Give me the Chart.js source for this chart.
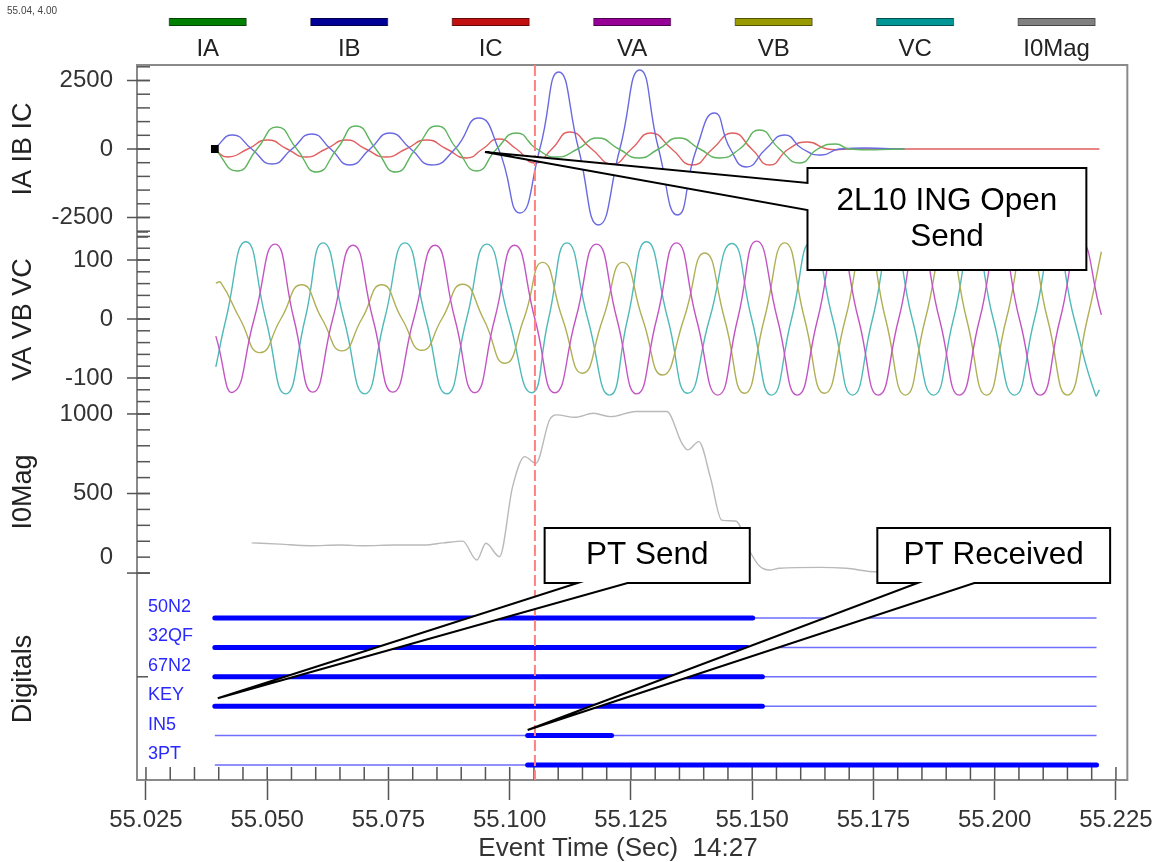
<!DOCTYPE html>
<html>
<head>
<meta charset="utf-8">
<script src="https://cdn.jsdelivr.net/npm/chart.js@4.4.1/dist/chart.umd.min.js"></script>
<style>
  html, body { margin: 0; padding: 0; background: #fff; }
  #wrap { width: 1159px; height: 862px; }
</style>
</head>
<body>
<div id="wrap"><canvas id="chart" width="1159" height="862"></canvas></div>
<script>
var FONT = '"Liberation Sans", Arial, sans-serif';

// ---- currents (A), key points: peaks and zero crossings
var iaTime = [55.0392, 55.0438, 55.0479, 55.0520, 55.0561, 55.0602, 55.0644, 55.0683, 55.0724, 55.0765, 55.0806, 55.0850, 55.0891, 55.0932, 55.0973, 55.1014, 55.1056, 55.1097, 55.1140, 55.1181, 55.1225, 55.1266, 55.1307, 55.1348, 55.1392, 55.1433, 55.1474, 55.1515, 55.1556, 55.1598, 55.1635, 55.1672, 55.1701, 55.1814];
var iaVal = [0, -803, 0, 803, 0, -840, 0, 840, 0, -840, 0, 840, 0, -803, 0, 584, 0, -292, 0, 402, 0, -329, 0, 402, 0, -329, 0, 694, 0, -511, 0, 183, 0, 0];

var ibTime = [55.0392, 55.0429, 55.0468, 55.0510, 55.0551, 55.0592, 55.0631, 55.0670, 55.0712, 55.0753, 55.0796, 55.0839, 55.0887, 55.0936, 55.0977, 55.1021, 55.1062, 55.1101, 55.1142, 55.1183, 55.1227, 55.1268, 55.1307, 55.1346, 55.1385, 55.1422, 55.1455, 55.1488, 55.1528, 55.1567, 55.1604, 55.1643, 55.1680, 55.1814];
var ibVal = [37, 511, 0, -548, 0, 548, 0, -584, 0, 584, 0, -584, 0, 1132, 0, -2336, 0, 2811, 0, -2774, 0, 2884, 0, -2409, 0, 1314, 0, -657, 0, 511, 0, -219, 0, 0];

var icTime = [55.0392, 55.0419, 55.0460, 55.0501, 55.0541, 55.0580, 55.0621, 55.0664, 55.0703, 55.0745, 55.0786, 55.0829, 55.0870, 55.0911, 55.0944, 55.0977, 55.1014, 55.1052, 55.1087, 55.1124, 55.1169, 55.1212, 55.1251, 55.1291, 55.1334, 55.1377, 55.1418, 55.1460, 55.1499, 55.1536, 55.1575, 55.1614, 55.1655, 55.1697, 55.2216];
var icVal = [-37, -292, 0, 329, 0, -292, 0, 329, 0, -292, 0, 329, 0, -329, 0, 365, 0, -511, 0, 621, 0, -548, 0, 584, 0, -584, 0, 584, 0, -584, 0, 256, 0, 0, 0];

// ---- voltages (V)
var vaTime = [55.0394, 55.0430, 55.0473, 55.0516, 55.0555, 55.0594, 55.0635, 55.0677, 55.0718, 55.0759, 55.0802, 55.0846, 55.0887, 55.0928, 55.0969, 55.1010, 55.1052, 55.1093, 55.1136, 55.1179, 55.1221, 55.1262, 55.1303, 55.1344, 55.1385, 55.1429, 55.1470, 55.1509, 55.1552, 55.1593, 55.1635, 55.1676, 55.1719, 55.1760, 55.1802, 55.1843, 55.1886, 55.1927, 55.1969, 55.2010, 55.2051, 55.2094, 55.2135, 55.2177, 55.2220];
var vaVal = [-29, -124, 0, 127, 0, -124, 0, 125, 0, -124, 0, 125, 0, -125, 0, 125, 0, -125, 0, 127, 0, -127, 0, 129, 0, -129, 0, 132, 0, -129, 0, 130, 0, -129, 0, 130, 0, -129, 0, 130, 0, -129, 0, 130, 7];

var vbTime = [55.0394, 55.0404, 55.0444, 55.0485, 55.0528, 55.0571, 55.0613, 55.0654, 55.0695, 55.0736, 55.0778, 55.0819, 55.0860, 55.0903, 55.0946, 55.0990, 55.1029, 55.1068, 55.1109, 55.1150, 55.1192, 55.1233, 55.1274, 55.1315, 55.1359, 55.1402, 55.1443, 55.1484, 55.1525, 55.1567, 55.1608, 55.1649, 55.1692, 55.1734, 55.1775, 55.1816, 55.1857, 55.1901, 55.1942, 55.1983, 55.2024, 55.2067, 55.2109, 55.2150, 55.2191, 55.2220];
var vbVal = [61, 62, 0, -57, 0, 58, 0, -54, 0, 58, 0, -53, 0, 59, 0, -75, 0, 96, 0, -92, 0, 96, 0, -95, 0, 112, 0, -126, 0, 129, 0, -126, 0, 130, 0, -129, 0, 130, 0, -129, 0, 130, 0, -129, 0, 114];

var vcTime = [55.0394, 55.0415, 55.0456, 55.0497, 55.0538, 55.0578, 55.0615, 55.0658, 55.0701, 55.0742, 55.0784, 55.0827, 55.0870, 55.0911, 55.0953, 55.0998, 55.1045, 55.1080, 55.1118, 55.1161, 55.1206, 55.1243, 55.1282, 55.1326, 55.1367, 55.1412, 55.1458, 55.1499, 55.1540, 55.1581, 55.1622, 55.1666, 55.1707, 55.1748, 55.1789, 55.1830, 55.1874, 55.1915, 55.1956, 55.1997, 55.2041, 55.2082, 55.2123, 55.2164, 55.2208, 55.2216];
var vcVal = [-81, 0, 131, 0, -127, 0, 129, 0, -127, 0, 129, 0, -127, 0, 127, 0, -125, 0, 129, 0, -129, 0, 131, 0, -126, 0, 128, 0, -129, 0, 130, 0, -129, 0, 130, 0, -129, 0, 130, 0, -129, 0, 130, 0, -129, -120];

// ---- residual current magnitude
var mTime = [55.0468, 55.0526, 55.0588, 55.0650, 55.0699, 55.0763, 55.0825, 55.0864, 55.0903, 55.0932, 55.0951, 55.0979, 55.1006, 55.1031, 55.1054, 55.1082, 55.1097, 55.1134, 55.1173, 55.1208, 55.1260, 55.1324, 55.1355, 55.1367, 55.1390, 55.1414, 55.1437, 55.1466, 55.1497, 55.1515, 55.1536, 55.1556, 55.1639, 55.1694, 55.1756, 55.1804];
var mVal = [190, 182, 172, 176, 172, 176, 176, 190, 201, 82, 187, 103, 543, 732, 690, 962, 994, 979, 1004, 983, 1015, 1015, 816, 774, 826, 598, 333, 327, 126, 44, 19, 30, 36, 30, 8, 19];

// ---- digitals: asserted interval of each channel
var digNames = ['50N2', '32QF', '67N2', 'KEY', 'IN5', '3PT'];
var digOnStart = [55.0392, 55.0392, 55.0392, 55.0392, 55.1037, 55.1037];
var digOnEnd = [55.1501, 55.1490, 55.1521, 55.1521, 55.1210, 55.2210];
var digFirst = 55.0392, digLast = 55.2210;

// ---- ticks / cursor
var xTicks = [55.025, 55.050, 55.075, 55.100, 55.125, 55.150, 55.175, 55.200, 55.225];
var iTicks = [2500, 0, -2500];
var vTicks = [100, 0, -100];
var mTicks = [1000, 500, 0];
var cursorTime = 55.1052;

function pts(ts, vs) {
  return ts.map(function (t, i) { return {x: t, y: vs[i]}; });
}

var analog = [
  {label: 'IA', t: iaTime, v: iaVal, axis: 'yI', line: 'rgb(95,180,95)', key: 'rgb(0,128,0)'},
  {label: 'IB', t: ibTime, v: ibVal, axis: 'yI', line: 'rgb(105,105,225)', key: 'rgb(0,0,150)'},
  {label: 'IC', t: icTime, v: icVal, axis: 'yI', line: 'rgb(225,95,95)', key: 'rgb(192,16,16)'},
  {label: 'VA', t: vaTime, v: vaVal, axis: 'yV', line: 'rgb(195,85,195)', key: 'rgb(150,0,150)'},
  {label: 'VB', t: vbTime, v: vbVal, axis: 'yV', line: 'rgb(175,175,85)', key: 'rgb(153,153,0)'},
  {label: 'VC', t: vcTime, v: vcVal, axis: 'yV', line: 'rgb(80,185,185)', key: 'rgb(0,150,150)'},
  {label: 'I0Mag', t: mTime, v: mVal, axis: 'yM', line: 'rgb(185,185,185)', key: 'rgb(128,128,128)'}
];

var datasets = analog.map(function (a, k) {
  return {
    label: a.label,
    data: pts(a.t, a.v),
    yAxisID: a.axis,
    borderColor: a.line,
    backgroundColor: a.key,
    borderWidth: 1.4,
    tension: a.axis === 'yM' ? 0 : 0.55,
    cubicInterpolationMode: a.axis === 'yM' ? 'monotone' : 'default',
    pointStyle: 'rect',
    pointRadius: k === 0 ? function (c) { return c.dataIndex === 0 ? 4.5 : 0; } : 0,
    pointBackgroundColor: '#000',
    pointBorderColor: '#000',
    fill: false
  };
});

// chart.js paints lower indexes last, so the asserted (thick) trace goes in first
digNames.forEach(function (name, i) {
  var lvl = digNames.length - 1 - i;
  datasets.push({
    label: name, digital: true, yAxisID: 'yD',
    data: [{x: digOnStart[i], y: lvl}, {x: digOnEnd[i], y: lvl}],
    borderColor: 'rgb(0,0,255)', borderWidth: 5, borderCapStyle: 'round', pointRadius: 0, fill: false
  });
  datasets.push({
    label: name, digital: true, yAxisID: 'yD',
    data: [{x: digFirst, y: lvl}, {x: digLast, y: lvl}],
    borderColor: 'rgb(110,110,255)', borderWidth: 1.5, pointRadius: 0, fill: false
  });
});

var panels = [
  {axis: 'yI', title: 'IA IB IC', labels: iTicks, step: 500, from: -3000, to: 3000, floor: 0},
  {axis: 'yV', title: 'VA VB VC', labels: vTicks, step: 20, from: -140, to: 140, floor: 0},
  {axis: 'yM', title: 'I0Mag', labels: mTicks, step: 100, from: 0, to: 1000, floor: 21},
  {axis: 'yD', title: 'Digitals', labels: [], step: 0, from: 0, to: 0, floor: 0, marks: [3]}
];

var callouts = [
  {text: ['2L10 ING Open', 'Send'], axis: 'yI', at: [55.0949, -110], box: [55.1614, 55.2189, -694, -4417], tail: 'left', base: [-1241, -2227]},
  {text: ['PT Send'], axis: 'yD', at: [55.0398, 2.27], box: [55.1072, 55.1495, 8.06, 6.19], tail: 'bottom', base: [55.1140, 55.1243]},
  {text: ['PT Received'], axis: 'yD', at: [55.1037, 1.19], box: [55.1758, 55.2238, 8.06, 6.19], tail: 'bottom', base: [55.1841, 55.1958]}
];

function seg(ctx, x1, y1, x2, y2) {
  ctx.beginPath(); ctx.moveTo(x1, y1); ctx.lineTo(x2, y2); ctx.stroke();
}

var framePlugin = {
  id: 'frame',
  beforeDatasetsDraw: function (chart) {
    var ctx = chart.ctx, a = chart.chartArea, xs = chart.scales.x;
    ctx.save();
    ctx.strokeStyle = '#8a8a8a';
    ctx.lineWidth = 2;
    ctx.strokeRect(a.left, a.top, a.right - a.left, a.bottom - a.top);

    ctx.strokeStyle = '#555';
    ctx.lineWidth = 1.5;
    for (var n = 0; n <= 40; n++) {
      var px = xs.getPixelForValue(55.025 + n * 0.005);
      seg(ctx, px, a.bottom - 13, px, a.bottom);
    }

    panels.forEach(function (p) {
      var s = chart.scales[p.axis];
      if (p.step) {
        var cnt = Math.round((p.to - p.from) / p.step);
        for (var k = 0; k <= cnt; k++) {
          var py = s.getPixelForValue(p.from + k * p.step);
          seg(ctx, a.left, py, a.left + 13, py);
        }
      }
      (p.marks || []).forEach(function (v) {
        var py = s.getPixelForValue(v);
        seg(ctx, a.left, py, a.left + 11, py);
      });
      ctx.fillStyle = '#333';
      ctx.font = '24px ' + FONT;
      ctx.textAlign = 'right';
      ctx.textBaseline = 'middle';
      p.labels.forEach(function (v) {
        var py = s.getPixelForValue(v);
        seg(ctx, a.left - 10, py, a.left + 13, py);
        var ly = p.floor ? Math.min(py, s.bottom - p.floor) : py;
        ctx.fillText(String(v), 113, ly);
      });
      ctx.save();
      ctx.translate(24, (s.top + s.bottom) / 2);
      ctx.rotate(-Math.PI / 2);
      ctx.fillStyle = '#222';
      ctx.font = '27px ' + FONT;
      ctx.textAlign = 'center';
      ctx.fillText(p.title, 0, 0);
      ctx.restore();
    });

    var sep = chart.scales.yI.bottom;
    seg(ctx, a.left, sep - 1, a.left + 11, sep - 1);
    seg(ctx, a.left, sep + 4, a.left + 11, sep + 4);

    var yd = chart.scales.yD;
    ctx.fillStyle = 'rgb(40,40,255)';
    ctx.font = '18px ' + FONT;
    ctx.textAlign = 'left';
    ctx.textBaseline = 'middle';
    digNames.forEach(function (name, i) {
      ctx.fillText(name, a.left + 11, yd.getPixelForValue(digNames.length - 1 - i) - 11);
    });
    ctx.restore();
  },
  afterDatasetsDraw: function (chart) {
    var ctx = chart.ctx, a = chart.chartArea;
    var cx = chart.scales.x.getPixelForValue(cursorTime);
    ctx.save();
    ctx.strokeStyle = 'rgb(255,130,130)';
    ctx.lineWidth = 2;
    ctx.setLineDash([11, 4]);
    seg(ctx, cx, a.top, cx, a.bottom);
    ctx.restore();
  }
};

function drawCallout(chart, c) {
  var ctx = chart.ctx, xs = chart.scales.x, ys = chart.scales[c.axis];
  var L = xs.getPixelForValue(c.box[0]), R = xs.getPixelForValue(c.box[1]);
  var T = ys.getPixelForValue(c.box[2]), B = ys.getPixelForValue(c.box[3]);
  var ax = xs.getPixelForValue(c.at[0]), ay = ys.getPixelForValue(c.at[1]);
  var b1, b2;
  ctx.beginPath();
  ctx.moveTo(L, T);
  ctx.lineTo(R, T);
  ctx.lineTo(R, B);
  if (c.tail === 'left') {
    b1 = ys.getPixelForValue(c.base[0]);
    b2 = ys.getPixelForValue(c.base[1]);
    ctx.lineTo(L, B);
    ctx.lineTo(L, b2);
    ctx.lineTo(ax, ay);
    ctx.lineTo(L, b1);
  } else {
    b1 = xs.getPixelForValue(c.base[0]);
    b2 = xs.getPixelForValue(c.base[1]);
    ctx.lineTo(b2, B);
    ctx.lineTo(ax, ay);
    ctx.lineTo(b1, B);
    ctx.lineTo(L, B);
  }
  ctx.closePath();
  ctx.fillStyle = '#fff';
  ctx.fill();
  ctx.strokeStyle = '#000';
  ctx.lineWidth = 2;
  ctx.stroke();
  ctx.fillStyle = '#000';
  ctx.font = '31.5px ' + FONT;
  ctx.textAlign = 'center';
  ctx.textBaseline = 'middle';
  var mid = (T + B) / 2, lh = 36;
  c.text.forEach(function (line, i) {
    ctx.fillText(line, (L + R) / 2, mid + (i - (c.text.length - 1) / 2) * lh);
  });
}

var overlayPlugin = {
  id: 'overlay',
  afterDraw: function (chart) {
    var ctx = chart.ctx, a = chart.chartArea;
    ctx.save();
    callouts.forEach(function (c) { drawCallout(chart, c); });

    var keys = chart.data.datasets.filter(function (d) { return !d.digital; });
    var cell = (a.right - a.left) / keys.length;
    keys.forEach(function (d, i) {
      var cx = a.left + cell * (i + 0.5);
      ctx.fillStyle = d.backgroundColor;
      ctx.fillRect(cx - 38.5, 18, 77, 8);
      ctx.strokeStyle = 'rgba(0,0,0,0.45)';
      ctx.lineWidth = 1;
      ctx.strokeRect(cx - 38.5, 18.5, 77, 7);
      ctx.fillStyle = '#222';
      ctx.font = '24px ' + FONT;
      ctx.textAlign = 'center';
      ctx.textBaseline = 'middle';
      ctx.fillText(d.label, cx, 49);
    });

    ctx.fillStyle = '#444';
    ctx.font = '10px ' + FONT;
    ctx.textAlign = 'left';
    ctx.fillText('55.04, 4.00', 7, 11);

    ctx.fillStyle = '#333';
    ctx.font = '26px ' + FONT;
    ctx.textAlign = 'center';
    ctx.fillText('Event Time (Sec)  14:27', 618, 849);
    ctx.restore();
  }
};

Chart.defaults.font.family = FONT;

new Chart(document.getElementById('chart'), {
  type: 'line',
  data: {datasets: datasets},
  options: {
    responsive: false,
    animation: false,
    events: [],
    layout: {padding: {left: 137, right: 31, top: 65, bottom: 0}},
    plugins: {legend: {display: false}, tooltip: {enabled: false}},
    scales: {
      x: {
        type: 'linear', position: 'bottom', min: 55.02315, max: 55.22735,
        afterBuildTicks: function (s) { s.ticks = xTicks.map(function (v) { return {value: v}; }); },
        afterFit: function (s) { s.height = 82; },
        grid: {drawOnChartArea: false, tickLength: 20, tickColor: '#555', tickWidth: 1.5},
        border: {display: false},
        ticks: {
          callback: function (v) { return v.toFixed(3); },
          font: {size: 24}, color: '#333', padding: 6, maxRotation: 0, autoSkip: false
        }
      },
      yI: {type: 'linear', position: 'left', stack: 'panels', stackWeight: 168, weight: 4, min: -3066, max: 3066, display: false},
      yV: {type: 'linear', position: 'left', stack: 'panels', stackWeight: 173, weight: 3, min: -147.5, max: 145.8, display: false},
      yM: {type: 'linear', position: 'left', stack: 'panels', stackWeight: 172, weight: 2, min: -31, max: 1050, display: false},
      yD: {type: 'linear', position: 'left', stack: 'panels', stackWeight: 202, weight: 1, min: -0.51, max: 6.36, display: false}
    }
  },
  plugins: [framePlugin, overlayPlugin]
});
</script>
</body>
</html>
